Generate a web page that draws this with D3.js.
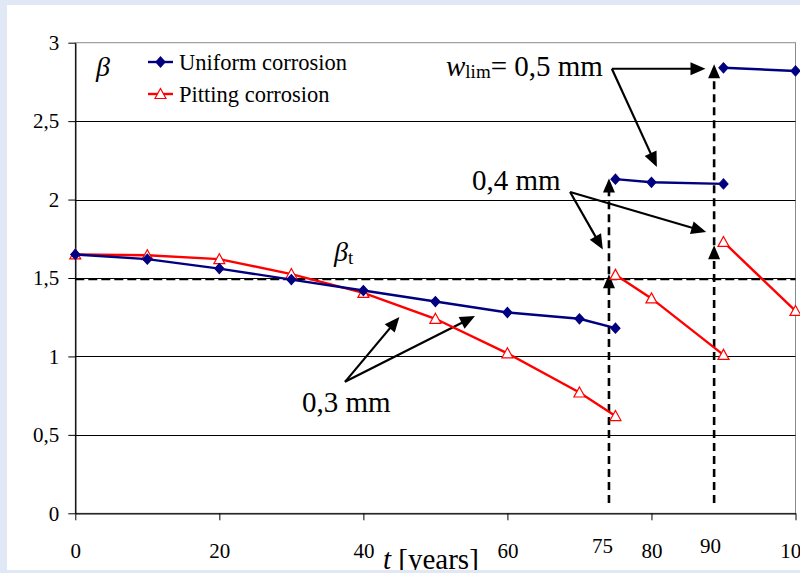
<!DOCTYPE html>
<html>
<head>
<meta charset="utf-8">
<script src="https://cdn.jsdelivr.net/npm/d3@7"></script>
<style>
  body { margin: 0; background: #dfe8f4; }
  svg { display: block; }
</style>
</head>
<body>
<div id="chart"></div>
<script>
'use strict';

// segment before first limit (w = 0,3 mm)
var yearsA = [0, 10, 20, 30, 40, 50, 60, 70, 75];
var uniformA = [1.65, 1.62, 1.56, 1.49, 1.42, 1.35, 1.28, 1.24, 1.18];
var pittingA = [1.65, 1.645, 1.62, 1.525, 1.405, 1.24, 1.02, 0.77, 0.62];
// after first repair (w = 0,4 mm)
var yearsB = [75, 80, 90];
var uniformB = [2.13, 2.11, 2.10];
var pittingB = [1.52, 1.37, 1.01];
// after second repair (w = 0,5 mm)
var yearsC = [90, 100];
var uniformC = [2.84, 2.82];
var pittingC = [1.73, 1.29];

var xTicks = [0, 20, 40, 60, 80, 100];
var yTicks = [0, 0.5, 1, 1.5, 2, 2.5, 3];
var betaTarget = 1.49;
var extraXLabels = [75, 90];

// annotation arrows in data units [t0, b0, t1, b1]
var solidArrows = [
    [74.5, 2.834, 87.5, 2.834],
    [74.5, 2.834, 80.75, 2.208],
    [68.7, 2.048, 73.25, 1.682],
    [68.7, 2.048, 87.6, 1.794],
    [37.45, 0.838, 45, 1.252],
    [37.45, 0.838, 55.5, 1.257]
];
var dashedArrows = [
    [74.1, 0.066, 74.1, 1.524],
    [74.1, 1.524, 74.1, 2.134],
    [88.7, 0.066, 88.7, 1.709],
    [88.7, 1.709, 88.7, 2.862]
];

var width = 800,
    height = 573;
var serif = '"Liberation Serif", "DejaVu Serif", serif';

var x = d3.scaleLinear().domain([0, 100]).range([75.3, 795.5]);
var y = d3.scaleLinear().domain([0, 3]).range([513.3, 42.7]);

var svg = d3.select('#chart').append('svg')
    .attr('width', width)
    .attr('height', height)
    .attr('font-family', serif);

svg.append('rect').attr('width', width).attr('height', height).attr('fill', '#dfe8f4');

svg.append('clipPath').attr('id', 'page')
    .append('rect').attr('x', 7).attr('y', 5).attr('width', width - 7).attr('height', 565);

var g = svg.append('g').attr('clip-path', 'url(#page)').attr('font-family', serif);
g.append('rect').attr('x', 7).attr('y', 5).attr('width', width - 7).attr('height', 565).attr('fill', '#fff');

// plot border
g.append('rect')
    .attr('x', x(0)).attr('y', y(3))
    .attr('width', x(100) - x(0)).attr('height', y(0) - y(3))
    .attr('fill', 'none').attr('stroke', '#8a8a8a').attr('stroke-width', 1);

// gridlines
g.selectAll('.grid')
    .data(yTicks.filter(function(d) { return d > 0 && d < 3; }))
    .enter().append('line')
    .attr('x1', x(0)).attr('x2', x(100))
    .attr('y1', function(d) { return Math.round(y(d)) + 0.5; })
    .attr('y2', function(d) { return Math.round(y(d)) + 0.5; })
    .attr('stroke', '#000').attr('stroke-width', 1);

// beta target line
g.append('line')
    .attr('x1', x(0)).attr('x2', x(100))
    .attr('y1', y(betaTarget)).attr('y2', y(betaTarget))
    .attr('stroke', '#000').attr('stroke-width', 1.6)
    .attr('stroke-dasharray', '9,4');

// axes
var fmt = function(d) { return String(d).replace('.', ','); };

var yAxis = g.append('g')
    .attr('transform', 'translate(' + x(0) + ',0)')
    .call(d3.axisLeft(y).tickValues(yTicks).tickFormat(fmt).tickSize(7).tickSizeOuter(0).tickPadding(9));
var xAxis = g.append('g')
    .attr('transform', 'translate(0,' + y(0) + ')')
    .call(d3.axisBottom(x).tickValues(xTicks).tickFormat(fmt).tickSize(7).tickSizeOuter(0));

[yAxis, xAxis].forEach(function(ax) {
    ax.attr('font-family', serif).attr('font-size', 21);
    ax.select('.domain').attr('stroke', '#000').attr('stroke-width', 1.2);
    ax.selectAll('line').attr('stroke', '#000');
    ax.selectAll('text').attr('fill', '#000');
});
yAxis.select('.domain').attr('stroke-width', 1.3);
xAxis.selectAll('text').attr('y', 0).attr('dy', 0).attr('transform', 'translate(0,45)');

// additional x labels
g.selectAll('.xextra')
    .data(extraXLabels)
    .enter().append('text')
    .attr('x', function(d) { return x(d) - 13; })
    .attr('y', 553)
    .attr('text-anchor', 'middle')
    .attr('font-size', 21)
    .text(function(d) { return d; });

// arrows
function arrow(sel, d, dashed) {
    var x0 = x(d[0]), y0 = y(d[1]), x1 = x(d[2]), y1 = y(d[3]);
    var dx = x1 - x0, dy = y1 - y0, len = Math.sqrt(dx * dx + dy * dy);
    var ux = dx / len, uy = dy / len;
    var hl = dashed ? 14 : 15, hw = dashed ? 6 : 6.5;
    var bx = x1 - ux * hl, by = y1 - uy * hl;
    sel.append('line')
        .attr('x1', x0).attr('y1', y0).attr('x2', bx + ux * 2).attr('y2', by + uy * 2)
        .attr('stroke', '#000')
        .attr('stroke-width', dashed ? 2.6 : 2.2)
        .attr('stroke-dasharray', dashed ? '8,5' : null);
    sel.append('path')
        .attr('d', 'M' + x1 + ',' + y1 +
            'L' + (bx - uy * hw) + ',' + (by + ux * hw) +
            'L' + (bx + uy * hw) + ',' + (by - ux * hw) + 'Z')
        .attr('fill', '#000');
}
var arrows = g.append('g');
solidArrows.forEach(function(d) { arrow(arrows, d, false); });
dashedArrows.forEach(function(d) { arrow(arrows, d, true); });

// series
var line = d3.line()
    .x(function(d) { return x(d[0]); })
    .y(function(d) { return y(d[1]); });

function zip(ts, bs) { return ts.map(function(t, i) { return [t, bs[i]]; }); }

var diamond = 'M0,-5L4.5,0L0,5L-4.5,0Z';
var triangle = 'M0,-5.5L5.5,4.5L-5.5,4.5Z';

function drawSeries(segments, color, markerPath, markerFill) {
    var sg = g.append('g');
    segments.forEach(function(pts) {
        sg.append('path').datum(pts)
            .attr('d', line)
            .attr('fill', 'none')
            .attr('stroke', color)
            .attr('stroke-width', 2.4);
    });
    segments.forEach(function(pts) {
        sg.selectAll(null).data(pts).enter().append('path')
            .attr('d', markerPath)
            .attr('transform', function(d) { return 'translate(' + x(d[0]) + ',' + y(d[1]) + ')'; })
            .attr('fill', markerFill)
            .attr('stroke', color)
            .attr('stroke-width', 1.2);
    });
}

drawSeries([zip(yearsA, pittingA), zip(yearsB, pittingB), zip(yearsC, pittingC)], '#ff0000', triangle, '#fff');
drawSeries([zip(yearsA, uniformA), zip(yearsB, uniformB), zip(yearsC, uniformC)], '#000080', diamond, '#000080');

// legend
var legend = g.append('g');
var legendItems = [
    {label: 'Uniform corrosion', color: '#000080', path: diamond, fill: '#000080', y: 62},
    {label: 'Pitting corrosion', color: '#ff0000', path: triangle, fill: '#fff', y: 94}
];
legendItems.forEach(function(d) {
    legend.append('line')
        .attr('x1', 148).attr('x2', 173).attr('y1', d.y).attr('y2', d.y)
        .attr('stroke', d.color).attr('stroke-width', 2.4);
    legend.append('path')
        .attr('d', d.path)
        .attr('transform', 'translate(160.5,' + d.y + ')')
        .attr('fill', d.fill).attr('stroke', d.color).attr('stroke-width', 1.2);
    legend.append('text')
        .attr('x', 179).attr('y', d.y + 8)
        .attr('font-family', serif)
        .attr('font-size', 22.5)
        .text(d.label);
});

// text annotations
var notes = g.append('g').attr('font-family', serif);

notes.append('text').attr('x', 96).attr('y', 76)
    .attr('font-size', 28).attr('font-style', 'italic').text('β');

var bt = notes.append('text').attr('x', 334).attr('y', 261).attr('font-size', 28);
bt.append('tspan').attr('font-style', 'italic').text('β');
bt.append('tspan').attr('font-size', 19).attr('dy', 3).text('t');

var wl = notes.append('text').attr('x', 446).attr('y', 76).attr('font-size', 29);
wl.append('tspan').attr('font-style', 'italic').text('w');
wl.append('tspan').attr('font-size', 19).attr('dy', 2).text('lim');
wl.append('tspan').attr('dy', -2).text('= 0,5 mm');

notes.append('text').attr('x', 472).attr('y', 190).attr('font-size', 29).text('0,4 mm');
notes.append('text').attr('x', 302).attr('y', 412).attr('font-size', 29).text('0,3 mm');

var xl = notes.append('text').attr('x', 383).attr('y', 569).attr('font-size', 29);
xl.append('tspan').attr('font-style', 'italic').text('t');
xl.append('tspan').text(' [years]');
</script>
</body>
</html>
